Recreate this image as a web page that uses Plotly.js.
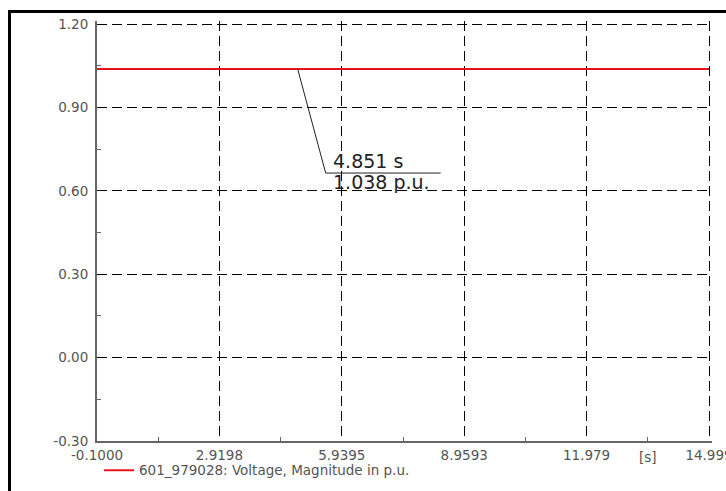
<!DOCTYPE html>
<html>
<head>
<meta charset="utf-8">
<script src="https://cdn.plot.ly/plotly-3.0.1.min.js"></script>
<style>
  html, body { margin: 0; padding: 0; background: #fff; }
  #wrap { position: relative; width: 726px; height: 491px; overflow: hidden; }
  #chart { position: absolute; left: 0; top: 0; width: 726px; height: 491px; }
  #frame { position: absolute; left: 8px; top: 10px; width: 730px; height: 500px;
           border-left: 3px solid #000; border-top: 3px solid #000; pointer-events: none; }
</style>
</head>
<body>
<div id="wrap">
  <div id="chart"></div>
  <div id="frame"></div>
</div>
<script>
// ---- data ----
const timeS = [-0.1, 14.999];
const voltagePu = [1.038, 1.038];
const seriesName = "601_979028: Voltage, Magnitude in p.u.";
const xTickVals = [-0.1, 2.9198, 5.9395, 8.9593, 11.979, 14.999];
const xTickText = ["-0.1000", "2.9198", "5.9395", "8.9593", "11.979", "14.999"];
const xMinorVals = [1.4099, 4.42965, 7.4494, 10.46915, 13.489];
const yTickVals = [-0.30, 0.00, 0.30, 0.60, 0.90, 1.20];
const yTickText = ["-0.30", "0.00", "0.30", "0.60", "0.90", "1.20"];
const yMinorVals = [-0.15, 0.15, 0.45, 0.75, 1.05];
const xUnitLabel = "[s]";
const xUnitPos = 13.489;
const cursorT = 4.851;
const cursorV = 1.038;
const cursorTText = "4.851 s";
const cursorVText = "1.038 p.u.";

const FONT = "'DejaVu Sans', Arial, sans-serif";
const grid = { gridcolor: "#000", gridwidth: 1, griddash: "10px,5px" };

const trace = {
  x: timeS, y: voltagePu, type: "scatter", mode: "lines",
  name: seriesName, line: { color: "#e8141c", width: 2 },
  hoverinfo: "skip"
};

const layout = {
  width: 726, height: 491,
  margin: { l: 97, r: 14, t: 21, b: 50, autoexpand: false },
  paper_bgcolor: "#fff", plot_bgcolor: "#fff",
  font: { family: FONT, size: 13.5, color: "#555" },
  showlegend: true,
  legend: {
    orientation: "h", x: 0.0033, xanchor: "left", y: -0.033, yanchor: "top",
    font: { family: FONT, size: 13.5, color: "#555" }, bgcolor: "rgba(0,0,0,0)"
  },
  xaxis: Object.assign({
    range: [-0.1, 15.073],
    tickmode: "array", tickvals: xTickVals, ticktext: xTickText,
    showgrid: true, zeroline: false,
    showline: true, linecolor: "#666", linewidth: 2, mirror: false,
    ticks: "", ticklabelstandoff: 1, ticklabeloverflow: "allow",
    tickfont: { family: FONT, size: 13.5, color: "#555" },
    minor: { tickmode: "array", tickvals: xMinorVals, ticks: "inside", ticklen: 4, tickcolor: "#666", tickwidth: 1, showgrid: false },
    fixedrange: true
  }, grid),
  yaxis: Object.assign({
    range: [-0.3, 1.2108],
    tickmode: "array", tickvals: yTickVals, ticktext: yTickText,
    showgrid: true, zeroline: false,
    showline: true, linecolor: "#666", linewidth: 2, mirror: false,
    ticks: "", ticklabelstandoff: 4, ticklabeloverflow: "allow",
    tickfont: { family: FONT, size: 13.5, color: "#555" },
    minor: { tickmode: "array", tickvals: yMinorVals, ticks: "inside", ticklen: 4, tickcolor: "#666", tickwidth: 1, showgrid: false },
    fixedrange: true
  }, grid),
  shapes: [
    { type: "line", xref: "x", yref: "y", xsizemode: "pixel", ysizemode: "pixel",
      xanchor: cursorT, yanchor: cursorV, x0: 0, y0: 0, x1: 28, y1: -104,
      line: { color: "#222", width: 1 } },
    { type: "line", xref: "x", yref: "y", xsizemode: "pixel", ysizemode: "pixel",
      xanchor: cursorT, yanchor: cursorV, x0: 28, y0: -104, x1: 143, y1: -104,
      line: { color: "#222", width: 1 } }
  ],
  annotations: [
    { x: cursorT, y: cursorV, xref: "x", yref: "y", text: cursorTText, showarrow: false,
      xanchor: "left", yanchor: "bottom", xshift: 33, yshift: -105,
      font: { family: FONT, size: 19, color: "#222" } },
    { x: cursorT, y: cursorV, xref: "x", yref: "y", text: cursorVText, showarrow: false,
      xanchor: "left", yanchor: "top", xshift: 33, yshift: -100,
      font: { family: FONT, size: 19, color: "#222" } },
    { x: xUnitPos, y: 0, xref: "x", yref: "paper", text: xUnitLabel, showarrow: false,
      xanchor: "center", yanchor: "top", yshift: -6,
      font: { family: FONT, size: 13.5, color: "#555" } }
  ]
};

Plotly.newPlot("chart", [trace], layout, { displayModeBar: false, staticPlot: true });
</script>
</body>
</html>
